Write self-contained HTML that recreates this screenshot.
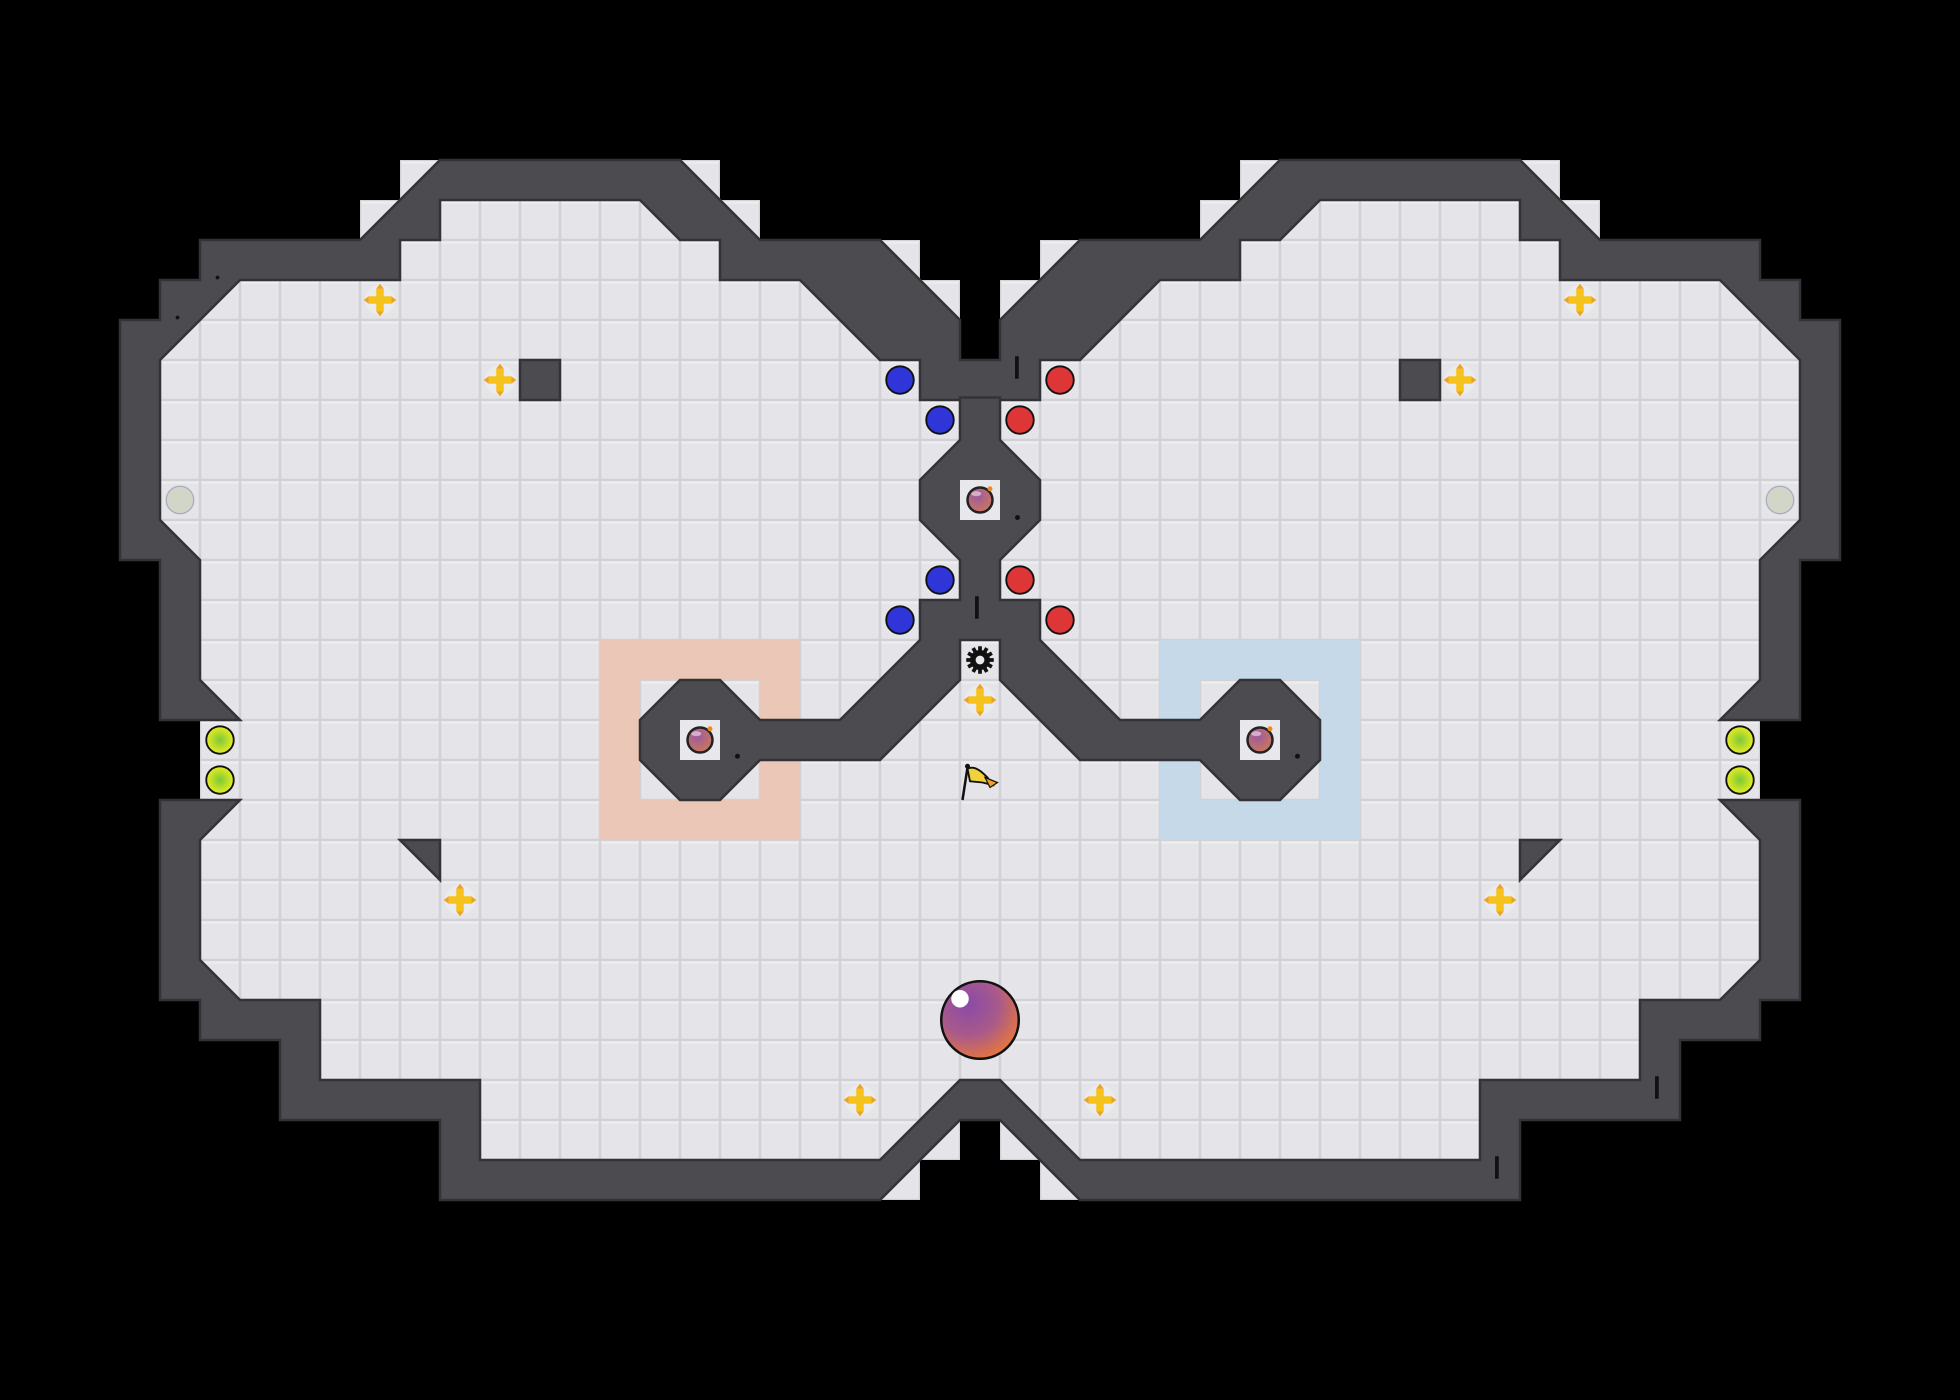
<!DOCTYPE html>
<html><head><meta charset="utf-8"><style>
html,body{margin:0;padding:0;background:#000;}
svg{display:block;}
</style></head><body>
<svg width="1960" height="1400" viewBox="0 0 1568 1120" xmlns="http://www.w3.org/2000/svg">
<defs>
<pattern id="grid" x="0" y="0" width="32" height="32" patternUnits="userSpaceOnUse">
<rect width="32" height="32" fill="#d2d2d6"/>
<rect x="1" y="1" width="30" height="30" fill="#e5e5e9"/>
<rect x="1" y="1" width="30" height="2" fill="#ededf0"/>
</pattern>
<radialGradient id="ball" cx="0.35" cy="0.3" r="0.8">
<stop offset="0" stop-color="#8a4aa8"/><stop offset="0.5" stop-color="#a95a8a"/><stop offset="1" stop-color="#f07a30"/>
</radialGradient>
<radialGradient id="bomb" cx="0.4" cy="0.35" r="0.7">
<stop offset="0" stop-color="#9a5aa0"/><stop offset="1" stop-color="#d07858"/>
</radialGradient>
<radialGradient id="yg" cx="0.5" cy="0.5" r="0.5">
<stop offset="0" stop-color="#7cc83a"/><stop offset="1" stop-color="#e8ec20"/>
</radialGradient>
<g id="cross">
<circle r="12" fill="#ececec" opacity="0.8"/>
<path d="M-3,-9 L3,-9 L3,-3 L9,-3 L9,3 L3,3 L3,9 L-3,9 L-3,3 L-9,3 L-9,-3 L-3,-3 Z" fill="#f6c21c"/>
<path d="M0,-13 L-3,-9 L3,-9 Z M0,13 L-3,9 L3,9 Z M-13,0 L-9,-3 L-9,3 Z M13,0 L9,-3 L9,3 Z" fill="#f0a020"/>
</g>
<g id="bombg">
<circle r="10" fill="url(#bomb)" stroke="#222" stroke-width="2"/>
<ellipse cx="-3" cy="-5" rx="4" ry="2" fill="#e8d0e8" opacity="0.7"/>
<circle cx="8" cy="-9" r="2" fill="#f08a20"/>
</g>
</defs>
<rect width="1568" height="1120" fill="#000"/>
<!-- floor -->
<polygon fill="url(#grid)" points="320,128 576,128 576,160 608,160 608,192 736,192 736,224 768,224 768,288 800,288 800,224 832,224 832,192 960,192 960,160 992,160 992,128 1248,128 1248,160 1280,160 1280,192 1408,192 1408,224 1440,224 1440,256 1472,256 1472,448 1440,448 1440,576 1408,576 1408,640 1440,640 1440,800 1408,800 1408,832 1344,832 1344,896 1216,896 1216,960 832,960 832,928 800,928 800,896 768,896 768,928 736,928 736,960 352,960 352,896 224,896 224,832 160,832 160,800 128,800 128,640 160,640 160,576 128,576 128,448 96,448 96,256 128,256 128,224 160,224 160,192 288,192 288,160 320,160"/>
<!-- coloured rings -->
<path fill-rule="evenodd" fill="#ebc7b7" d="M480,512 H640 V672 H480 Z M512,544 V640 H608 V544 Z"/>
<path fill-rule="evenodd" fill="#c6d9e8" d="M928,512 H1088 V672 H928 Z M960,544 V640 H1056 V544 Z"/>
<g fill="#4b4b50" stroke="#333337" stroke-width="2" stroke-linejoin="miter">
<!-- top wall chain -->
<polygon points="128,576 128,448 96,448 96,256 128,256 128,224 160,224 160,192 288,192 352,128 544,128 608,192 704,192 768,256 768,288 800,288 800,256 864,192 960,192 1024,128 1216,128 1280,192 1408,192 1408,224 1440,224 1440,256 1472,256 1472,448 1440,448 1440,576 1376,576 1408,544 1408,448 1440,416 1440,288 1376,224 1248,224 1248,192 1216,192 1216,160 1056,160 1024,192 992,192 992,224 928,224 864,288 832,288 832,320 736,320 736,288 704,288 640,224 576,224 576,192 544,192 512,160 352,160 352,192 320,192 320,224 192,224 128,288 128,416 160,448 160,544 192,576"/>
<!-- center + arms -->
<polygon points="768,318 800,318 800,352 832,384 832,416 800,448 800,480 832,480 832,512 896,576 960,576 992,544 1024,544 1056,576 1056,608 1024,640 992,640 960,608 864,608 800,544 800,512 768,512 768,544 704,608 608,608 576,640 544,640 512,608 512,576 544,544 576,544 608,576 672,576 736,512 736,480 768,480 768,448 736,416 736,384 768,352"/>
<!-- bottom wall -->
<polygon points="128,640 128,800 160,800 160,832 224,832 224,896 352,896 352,960 704,960 768,896 800,896 864,960 1216,960 1216,896 1344,896 1344,832 1408,832 1408,800 1440,800 1440,640 1376,640 1408,672 1408,768 1376,800 1312,800 1312,864 1184,864 1184,928 864,928 800,864 768,864 704,928 384,928 384,864 256,864 256,800 192,800 160,768 160,672 192,640"/>
<rect x="416" y="288" width="32" height="32"/>
<rect x="1120" y="288" width="32" height="32"/>
<polygon points="320,672 352,672 352,704"/>
<polygon points="1248,672 1216,672 1216,704"/>
</g>
<!-- white boxes -->
<rect x="768" y="384" width="32" height="32" fill="#e8e8ec"/>
<rect x="544" y="576" width="32" height="32" fill="#e8e8ec"/>
<rect x="992" y="576" width="32" height="32" fill="#e8e8ec"/>
<use href="#bombg" x="784" y="400"/>
<use href="#bombg" x="560" y="592"/>
<use href="#bombg" x="1008" y="592"/>
<!-- ticks/dots -->
<g fill="#111">
<rect x="812" y="285" width="3" height="18"/>
<rect x="780" y="477" width="3" height="18"/>
<rect x="1324" y="861" width="3" height="18"/>
<rect x="1196" y="925" width="3" height="18"/>
<circle cx="590" cy="605" r="2"/><circle cx="1038" cy="605" r="2"/><circle cx="814" cy="414" r="2"/>
<circle cx="174" cy="222" r="1.5"/><circle cx="142" cy="254" r="1.5"/>
</g>
<!-- crosses -->
<use href="#cross" x="304" y="240"/><use href="#cross" x="400" y="304"/>
<use href="#cross" x="368" y="720"/><use href="#cross" x="688" y="880"/>
<use href="#cross" x="784" y="560"/><use href="#cross" x="880" y="880"/>
<use href="#cross" x="1200" y="720"/><use href="#cross" x="1168" y="304"/>
<use href="#cross" x="1264" y="240"/>
<!-- blue/red -->
<g stroke="#111" stroke-width="1.5">
<circle cx="720" cy="304" r="11" fill="#2f35d8"/><circle cx="752" cy="336" r="11" fill="#2f35d8"/>
<circle cx="752" cy="464" r="11" fill="#2f35d8"/><circle cx="720" cy="496" r="11" fill="#2f35d8"/>
<circle cx="848" cy="304" r="11" fill="#de3636"/><circle cx="816" cy="336" r="11" fill="#de3636"/>
<circle cx="816" cy="464" r="11" fill="#de3636"/><circle cx="848" cy="496" r="11" fill="#de3636"/>
<circle cx="144" cy="400" r="11" fill="#d2d6c6" stroke="#aab" stroke-width="1"/>
<circle cx="1424" cy="400" r="11" fill="#d2d6c6" stroke="#aab" stroke-width="1"/>
<circle cx="176" cy="592" r="11" fill="url(#yg)"/><circle cx="176" cy="624" r="11" fill="url(#yg)"/>
<circle cx="1392" cy="592" r="11" fill="url(#yg)"/><circle cx="1392" cy="624" r="11" fill="url(#yg)"/>
</g>
<!-- gear -->
<g transform="translate(784,528)">
<g fill="#111">
<circle r="8"/>
<g id="teeth"><rect x="-1.5" y="-11" width="3" height="22"/><rect x="-11" y="-1.5" width="22" height="3"/></g>
<use href="#teeth" transform="rotate(30)"/><use href="#teeth" transform="rotate(60)"/>
</g>
<circle r="3.5" fill="#e8e8ec"/>
</g>
<!-- flag -->
<g transform="translate(770,612)">
<line x1="0" y1="28" x2="4" y2="2" stroke="#111" stroke-width="2"/>
<circle cx="4" cy="1" r="2" fill="#111"/>
<path d="M4,3 C10,0 16,6 20,10 L24,16 L16,14 L6,13 Z" fill="#f2d23a" stroke="#111" stroke-width="1.5"/>
<path d="M18,10 L28,14 L22,18 Z" fill="#f0a020" stroke="#111" stroke-width="1"/>
</g>
<!-- big ball -->
<circle cx="784" cy="816" r="31" fill="url(#ball)" stroke="#111" stroke-width="2"/>
<circle cx="768" cy="799" r="7" fill="#fff"/>
</svg>
</body></html>
